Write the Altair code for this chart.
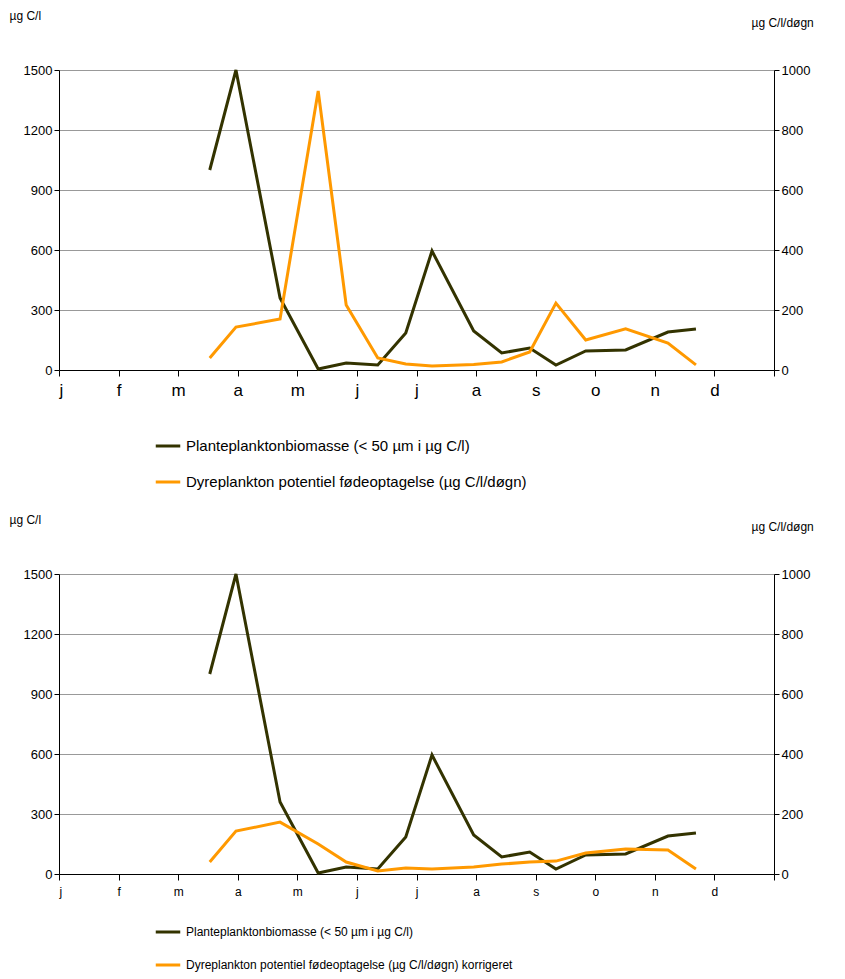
import altair as alt
import pandas as pd

months = ["j","f","m","a","m","j","j","a","s","o","n","d"]
xpos = [2.53,2.97,3.71,4.35,4.82,5.35,5.82,6.26,6.96,7.43,7.90,8.34,8.84,9.51,10.22,10.69]
plante = [1000,1500,360,5,35,25,185,595,195,85,110,25,95,100,190,205]
dyr_top = [40,143,170,930,217,40,20,13,18,27,60,223,100,137,90,17]
dyr_bot = [40,143,173,100,40,10,20,17,23,33,40,43,70,83,80,17]

def panel(dyr, name2, fs, lfs, ly, rp):
    n1 = "Planteplanktonbiomasse (< 50 µm i µg C/l)"
    d1 = pd.DataFrame({"x": xpos, "v": plante, "s": n1})
    d2 = pd.DataFrame({"x": xpos, "v": dyr, "s": name2})
    color = alt.Color("s:N", scale=alt.Scale(domain=[n1, name2], range=["#333300", "#ff9900"]),
                      legend=alt.Legend(title=None, orient="none", legendX=95, legendY=ly,
                                        direction="vertical", symbolType="stroke",
                                        symbolStrokeWidth=3, symbolSize=600, labelFontSize=lfs,
                                        labelLimit=600, rowPadding=rp, labelColor="black"))
    xax = alt.X("x:Q", scale=alt.Scale(domain=[0, 12], nice=False),
                axis=alt.Axis(values=list(range(13)), title=None, grid=False,
                              labelExpr="datum.value<12 ? " + str(months) + "[datum.value] : ''",
                              labelFontSize=fs, tickSize=6, domainColor="black", tickColor="black",
                              labelColor="black", labelPadding=6))
    l1 = alt.Chart(d1).mark_line(strokeWidth=3).encode(
        x=xax,
        y=alt.Y("v:Q", scale=alt.Scale(domain=[0, 1500]),
                axis=alt.Axis(values=[0,300,600,900,1200,1500], format="d", title="µg C/l", titleAngle=0,
                              titleX=-50, titleY=-60, titleAlign="left", titleBaseline="top",
                              titleFontWeight="normal",
                              titleFontSize=12, labelFontSize=13, gridColor="#999999",
                              domainColor="black", tickColor="black", labelColor="black")),
        color=color)
    l2 = alt.Chart(d2).mark_line(strokeWidth=3).encode(
        x=xax,
        y=alt.Y("v:Q", scale=alt.Scale(domain=[0, 1000]),
                axis=alt.Axis(orient="right", values=[0,200,400,600,800,1000], format="d", grid=False,
                              title="µg C/l/døgn", titleAngle=0, titleX=-23, titleY=-53,
                              titleAlign="left", titleBaseline="top", titleFontWeight="normal",
                              titleFontSize=12, labelFontSize=13, domainColor="black",
                              tickColor="black", labelColor="black")),
        color=color)
    return alt.layer(l1, l2).resolve_scale(y="independent").properties(width=715, height=300)

top = panel(dyr_top, "Dyreplankton potentiel fødeoptagelse (µg C/l/døgn)", 17, 15, 362, 14)
bot = panel(dyr_bot, "Dyreplankton potentiel fødeoptagelse (µg C/l/døgn) korrigeret", 12, 12, 344, 13)

chart = alt.vconcat(top, bot, spacing=21).resolve_scale(color="independent").configure_view(
    stroke="black").configure(font="Arial", padding={"left": 0, "top": 0, "right": 0, "bottom": 0})
chart.save("out.html", embed_options={"renderer": "svg", "actions": False})
